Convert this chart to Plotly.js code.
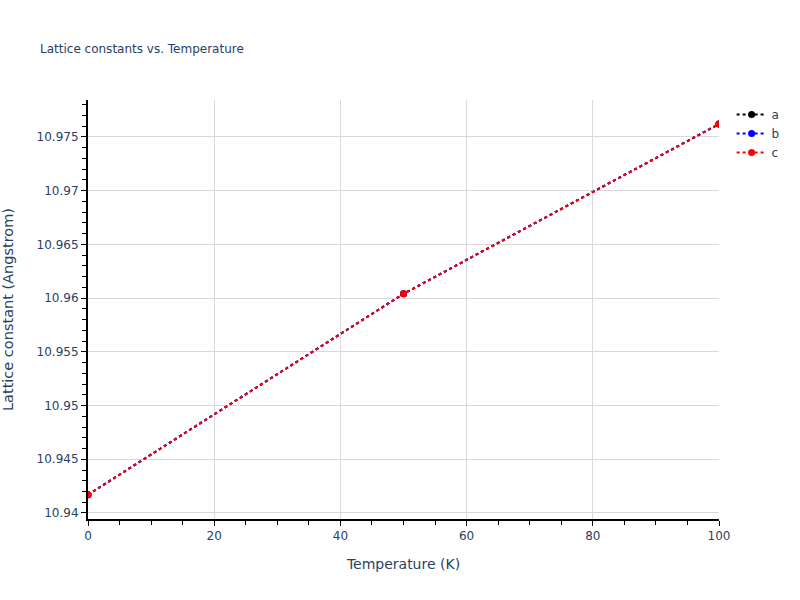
<!DOCTYPE html>
<html>
<head>
<meta charset="utf-8">
<script src="https://cdn.plot.ly/plotly-3.0.1.min.js"></script>
<style>html,body{margin:0;padding:0;background:#fff;}#chart{width:800px;height:600px;}</style>
</head>
<body>
<div id="chart"></div>
<script>
const temperature = [0, 50, 100];
const latticeA = [10.9417, 10.9604, 10.9762];
const latticeB = [10.9417, 10.9604, 10.9762];
const latticeC = [10.9417, 10.9604, 10.9762];
const seriesNames = ['a', 'b', 'c'];
const seriesColors = ['black', 'blue', 'red'];

const values = [latticeA, latticeB, latticeC];
const traces = values.map((v, i) => ({
  x: temperature,
  y: v,
  name: seriesNames[i],
  mode: 'lines+markers',
  type: 'scatter',
  line: {color: seriesColors[i], dash: 'dot', width: 2},
  marker: {color: seriesColors[i], size: 7}
}));

const layout = {
  width: 800, height: 600,
  margin: {l: 88, r: 81, t: 100, b: 81},
  paper_bgcolor: 'white', plot_bgcolor: 'white',
  font: {family: '"DejaVu Sans", Verdana, sans-serif', color: '#2a3f5f', size: 12},
  title: {text: 'Lattice constants vs. Temperature', font: {size: 12}, x: 0.05, xanchor: 'left', y: 0.925},
  xaxis: {
    title: {text: 'Temperature (K)', font: {size: 14}, standoff: 17},
    range: [0, 100], dtick: 20,
    showline: true, linecolor: 'black', linewidth: 2,
    ticks: 'outside', tickcolor: 'black', ticklen: 5,
    gridcolor: '#d9d9d9', zeroline: false,
    minor: {dtick: 5, ticks: 'outside', ticklen: 4, tickcolor: 'black', showgrid: false}
  },
  yaxis: {
    title: {text: 'Lattice constant (Angstrom)', font: {size: 14.5}, standoff: 28},
    range: [10.93944, 10.97844], dtick: 0.005,
    showline: true, linecolor: 'black', linewidth: 2,
    ticks: 'outside', tickcolor: 'black', ticklen: 5,
    gridcolor: '#d9d9d9', zeroline: false,
    minor: {dtick: 0.001, ticks: 'outside', ticklen: 4, tickcolor: 'black', showgrid: false}
  },
  legend: {x: 1.02, y: 1, xanchor: 'left', yanchor: 'top', font: {size: 12}}
};

Plotly.newPlot('chart', traces, layout, {displayModeBar: false});
</script>
</body>
</html>
